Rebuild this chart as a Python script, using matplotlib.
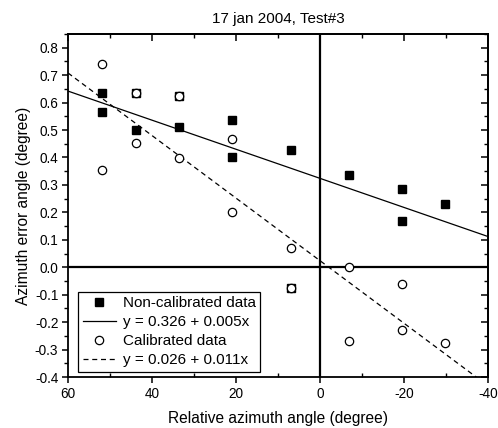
import matplotlib
matplotlib.use("Agg")
import matplotlib.pyplot as plt
from matplotlib.ticker import MultipleLocator
import numpy as np

plt.rcParams["font.family"] = ["Liberation Sans", "DejaVu Sans"]
plt.rcParams["axes.unicode_minus"] = False

# relative azimuth angle (degree)
nc_x = [52.0, 52.0, 43.8, 43.8, 33.5, 33.5, 21.0, 21.0, 7.0, 7.0, -7.0, -19.4, -19.4, -29.7]
nc_y = [0.634, 0.565, 0.635, 0.499, 0.624, 0.510, 0.536, 0.401, 0.427, -0.074, 0.336, 0.285, 0.170, 0.229]

cal_x = [52.0, 52.0, 43.8, 43.8, 33.5, 33.5, 21.0, 21.0, 7.0, 7.0, -7.0, -7.0, -19.4, -19.4, -29.7]
cal_y = [0.740, 0.354, 0.635, 0.453, 0.624, 0.397, 0.468, 0.200, 0.070, -0.074, 0.000, -0.270, -0.060, -0.230, -0.275]

# fitted lines as drawn (intercept, slope)
nc_fit = (0.324, 0.0053)
cal_fit = (0.024, 0.0114)
nc_label = "y = 0.326 + 0.005x"
cal_label = "y = 0.026 + 0.011x"

fig = plt.figure(figsize=(4.98, 4.28), dpi=100)
ax = fig.add_axes([0.1365, 0.119, 0.8435, 0.8016])

xfit = np.array([60, -40])
ax.axhline(0, color="black", lw=1.6, zorder=1)
ax.axvline(0, color="black", lw=1.6, zorder=1)

ax.plot(nc_x, nc_y, "s", color="black", ms=6, ls="none", label="Non-calibrated data", zorder=3)
ax.plot(xfit, nc_fit[0] + nc_fit[1] * xfit, "-", color="black", lw=0.9, label=nc_label, zorder=2)
ax.plot(cal_x, cal_y, "o", mfc="white", mec="black", mew=0.9, ms=6, ls="none",
        label="Calibrated data", zorder=4)
ax.plot(xfit, cal_fit[0] + cal_fit[1] * xfit, "--", color="black", lw=0.9,
        dashes=(4, 3), label=cal_label, zorder=2)

ax.set_xlim(60, -40)
ax.set_ylim(-0.4, 0.85)
ax.xaxis.set_major_locator(MultipleLocator(20))
ax.xaxis.set_minor_locator(MultipleLocator(10))
ax.yaxis.set_major_locator(MultipleLocator(0.1))
ax.yaxis.set_minor_locator(MultipleLocator(0.05))
ax.yaxis.set_major_formatter(plt.FuncFormatter(lambda v, p: f"{v:.1f}"))

for s in ax.spines.values():
    s.set_linewidth(1.3)

ax.tick_params(which="major", direction="out", length=4.5, width=1.1, labelsize=9.8,
               top=False, right=False, pad=2.5)
ax.tick_params(which="minor", direction="out", length=3, width=1.0, top=False, right=False)
ax.tick_params(axis="x", which="minor", direction="in")

# mirrored inward ticks on top and right
sec_x = ax.secondary_xaxis("top")
sec_x.xaxis.set_major_locator(MultipleLocator(20))
sec_x.xaxis.set_minor_locator(MultipleLocator(10))
sec_x.tick_params(which="major", direction="in", length=5, width=1.1, labeltop=False)
sec_x.tick_params(which="minor", direction="in", length=3, width=1.0)
sec_x.spines["top"].set_linewidth(1.3)
sec_y = ax.secondary_yaxis("right")
sec_y.yaxis.set_major_locator(MultipleLocator(0.1))
sec_y.yaxis.set_minor_locator(MultipleLocator(0.05))
sec_y.tick_params(which="major", direction="in", length=5, width=1.1, labelright=False)
sec_y.tick_params(which="minor", direction="in", length=3, width=1.0)
sec_y.spines["right"].set_linewidth(1.3)

ax.set_title("17 jan 2004, Test#3", fontsize=11, pad=8)
ax.set_xlabel("Relative azimuth angle (degree)", fontsize=11.2, labelpad=7)
ax.set_ylabel("Azimuth error angle (degree)", fontsize=11.2, labelpad=3)

leg = ax.legend(loc="lower left", bbox_to_anchor=(0.025, 0.015), fontsize=11,
                frameon=True, fancybox=False, edgecolor="black", framealpha=1,
                handlelength=2.15, handletextpad=0.45, borderpad=0.3, labelspacing=0.33,
                borderaxespad=0)
leg.get_frame().set_linewidth(0.9)

fig.savefig("out.png", dpi=100)
